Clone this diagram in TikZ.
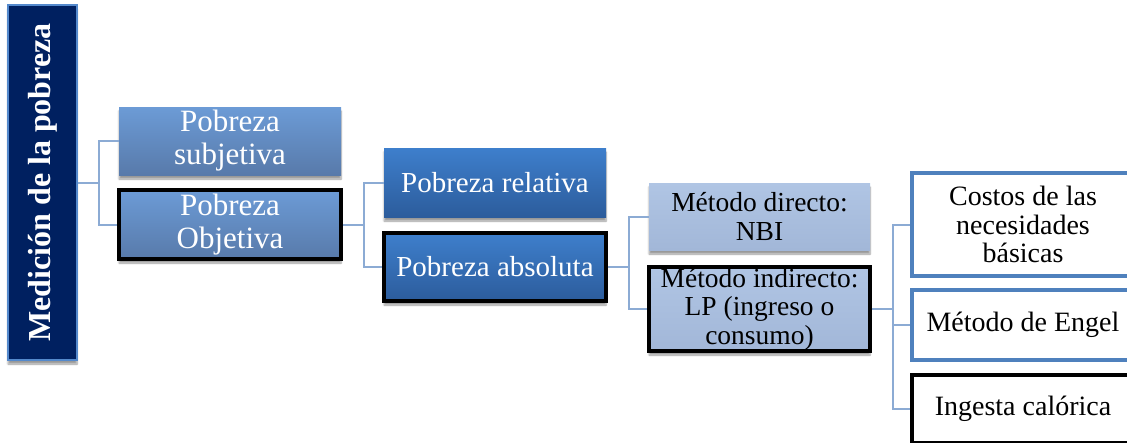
\documentclass[tikz,border=0pt]{standalone}
\usepackage{fontspec}
\setmainfont{Liberation Serif}
\usetikzlibrary{shadows.blur}
\definecolor{navy}{RGB}{0,32,96}
\definecolor{rootedge}{RGB}{84,137,204}
\definecolor{onetop}{RGB}{108,155,214}
\definecolor{onebot}{RGB}{88,122,170}
\definecolor{twotop}{RGB}{62,127,204}
\definecolor{twobot}{RGB}{44,92,156}
\definecolor{threetop}{RGB}{176,197,228}
\definecolor{threebot}{RGB}{162,183,216}
\definecolor{edgeblue}{RGB}{79,129,189}
\definecolor{connblue}{RGB}{140,171,212}

\begin{document}
\begin{tikzpicture}[x=1pt, y=-1pt,
  box/.style={rectangle, inner sep=0pt, align=center},
  shadowed/.style={blur shadow={shadow xshift=0pt, shadow yshift=-4pt, shadow blur steps=6, shadow opacity=40}},
  levelone/.style={box, shadowed, top color=onetop, bottom color=onebot, text=white,
    minimum width=222pt, font=\fontsize{31}{33}\selectfont},
  leveltwo/.style={box, shadowed, top color=twotop, bottom color=twobot, text=white,
    minimum width=222pt, font=\fontsize{29}{31}\selectfont},
  levelthree/.style={box, shadowed, top color=threetop, bottom color=threebot, text=black,
    minimum width=221pt, font=\fontsize{27.5}{28.5}\selectfont},
  levelfour/.style={box, fill=white, draw=edgeblue, line width=4pt, text=black,
    minimum width=222pt, font=\fontsize{28}{28.5}\selectfont},
  marked/.style={draw=black, line width=3.5pt},
  conn/.style={draw=connblue, line width=2pt}]
\useasboundingbox (0,0) rectangle (1127,442);

% root
\node [box, shadowed, fill=navy, draw=rootedge, line width=2pt, text=white, rotate=90,
  minimum width=355pt, minimum height=69pt, font=\bfseries\fontsize{32}{34}\selectfont]
  (root) at (42.5,182.5) {Medición de la pobreza};

% first level
\node [levelone, minimum height=68pt] (subj) at (230,141) {Pobreza\\subjetiva};
\node [levelone, marked, minimum height=69pt] (obj) at (230,224.5) {Pobreza\\Objetiva};

% second level
\node [leveltwo, minimum height=69pt] (rel) at (495,182.5) {Pobreza relativa};
\node [leveltwo, marked, minimum height=68pt] (abs) at (495,267) {Pobreza absoluta};

% third level
\node [levelthree, minimum height=67pt] (dir) at (759.5,216.5) {Método directo:\\NBI};
\node [levelthree, marked, minimum height=84pt] (ind) at (759.5,309) {Método indirecto:\\LP (ingreso o\\consumo)};

% fourth level
\node [levelfour, minimum height=103pt] (cost) at (1023,224.5) {Costos de las\\necesidades\\básicas};
\node [levelfour, minimum height=70pt] (engel) at (1023,325) {Método de Engel};
\node [levelfour, draw=black, line width=3.5pt, minimum height=68pt] (cal) at (1023,409) {Ingesta calórica};

% connectors
\draw [conn] (root.south) -- ++(21,0) coordinate (j1) |- (subj.west);
\draw [conn] (j1) |- (obj.west);
\draw [conn] (obj.east) -- ++(21,0) coordinate (j2) |- (rel.west);
\draw [conn] (j2) |- (abs.west);
\draw [conn] (abs.east) -- ++(21,0) coordinate (j3) |- (dir.west);
\draw [conn] (j3) |- (ind.west);
\draw [conn] (ind.east) -- ++(21,0) coordinate (j4) |- (cost.west);
\draw [conn] (j4) |- (engel.west);
\draw [conn] (j4) |- (cal.west);
\end{tikzpicture}
\end{document}
